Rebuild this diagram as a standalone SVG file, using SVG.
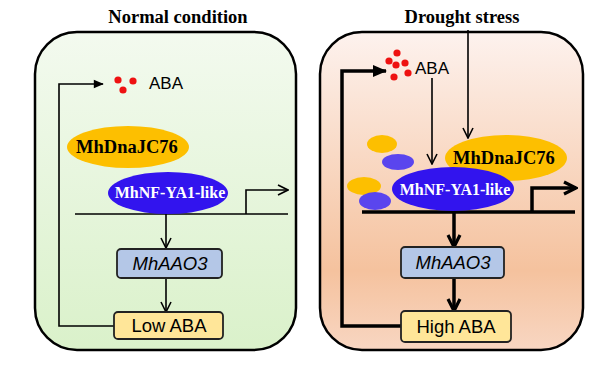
<svg xmlns="http://www.w3.org/2000/svg" width="600" height="380" viewBox="0 0 600 380">
<defs>
<linearGradient id="gGreen" x1="0" y1="0" x2="0" y2="1">
<stop offset="0" stop-color="#f3faef"/>
<stop offset="1" stop-color="#daf1ca"/>
</linearGradient>
<linearGradient id="gPeach" x1="0" y1="0" x2="0" y2="1">
<stop offset="0" stop-color="#fdf2ee"/>
<stop offset="0.75" stop-color="#f5c29e"/>
<stop offset="1" stop-color="#f8d6c2"/>
</linearGradient>
<marker id="chev" viewBox="0 0 12 12" refX="11" refY="6" markerWidth="12" markerHeight="12" markerUnits="userSpaceOnUse" orient="auto">
<path d="M1,1 L11,6 L1,11" fill="none" stroke="#000" stroke-width="1.6"/>
</marker>
<marker id="chevB" viewBox="0 0 16 16" refX="14" refY="8" markerWidth="16" markerHeight="16" markerUnits="userSpaceOnUse" orient="auto">
<path d="M2,2 L14,8 L2,14" fill="none" stroke="#000" stroke-width="3.2"/>
</marker>
<marker id="tri" viewBox="0 0 12 12" refX="11" refY="6" markerWidth="12" markerHeight="10" markerUnits="userSpaceOnUse" orient="auto">
<path d="M0,1 L12,6 L0,11 Z" fill="#000"/>
</marker>
<marker id="triB" viewBox="0 0 14 14" refX="13" refY="7" markerWidth="14" markerHeight="14" markerUnits="userSpaceOnUse" orient="auto">
<path d="M0,1 L14,7 L0,13 Z" fill="#000"/>
</marker>
</defs>
<style>
.title{font-family:"Liberation Serif",serif;font-weight:bold;font-size:18.5px;fill:#000}
.panel{stroke:#000;stroke-width:2.5}
.aba{font-family:"Liberation Sans",Arial,sans-serif;font-size:17px;fill:#000}
.dot{fill:#ee1111}
.yel{fill:#fdbf00}
.blu{fill:#3214ee}
.lblu{fill:#5a45ee}
.ptxt{font-family:"Liberation Serif",serif;font-weight:bold;font-size:18.5px;fill:#000}
.wtxt{font-family:"Liberation Serif",serif;font-weight:bold;font-size:16px;fill:#fff}
.box{stroke:#222;stroke-width:1.8}
.gene{fill:#b4c7e7}
.abab{fill:#ffe699}
.btxt{font-family:"Liberation Sans",Arial,sans-serif;font-size:18.5px;fill:#000}
.thin{fill:none;stroke:#000;stroke-width:1.6}
.thick{fill:none;stroke:#000;stroke-width:3.5}
</style>

<text class="title" x="178" y="23" text-anchor="middle">Normal condition</text>
<text class="title" x="462" y="23" text-anchor="middle">Drought stress</text>

<g id="panel-normal">
<rect class="panel" x="35" y="32" width="261" height="318" rx="42" fill="url(#gGreen)"/>
</g>
<g id="panel-drought">
<rect class="panel" x="320" y="32" width="263" height="318" rx="42" fill="url(#gPeach)"/>
</g>

<g id="connectors">
<path class="thin" d="M114,326 H59 V84 H103" marker-end="url(#tri)"/>
<line class="thin" x1="75" y1="214" x2="288" y2="214"/>
<path class="thin" d="M246,214 V190 H288" marker-end="url(#chev)"/>
<line class="thin" x1="166" y1="214" x2="166" y2="248" marker-end="url(#chev)"/>
<line class="thin" x1="166" y1="278" x2="166" y2="312" marker-end="url(#chev)"/>
<path class="thick" d="M401,326 H342 V71 H386" marker-end="url(#triB)"/>
<line class="thin" x1="468" y1="30" x2="468" y2="138" marker-end="url(#chev)"/>
<line class="thin" x1="432" y1="78" x2="432" y2="164" marker-end="url(#chev)"/>
<line class="thick" x1="362" y1="212" x2="575" y2="212"/>
<path class="thick" d="M532,212 V188 H576" marker-end="url(#chevB)"/>
<line class="thick" x1="454" y1="212" x2="454" y2="247" marker-end="url(#chevB)"/>
<line class="thick" x1="454" y1="278" x2="454" y2="311" marker-end="url(#chevB)"/>
</g>

<g id="aba-normal">
<circle class="dot" cx="118" cy="80" r="3.6"/>
<circle class="dot" cx="133" cy="81" r="3.6"/>
<circle class="dot" cx="123" cy="90" r="3.6"/>
<text class="aba" x="149" y="89">ABA</text>
</g>
<g id="dnajc-normal">
<ellipse class="yel" cx="128" cy="147" rx="61" ry="21"/>
<text class="ptxt" x="127" y="153" text-anchor="middle">MhDnaJC76</text>
</g>
<g id="nfya-normal">
<ellipse class="blu" cx="168" cy="193" rx="60" ry="21"/>
<text class="wtxt" x="170" y="198" text-anchor="middle">MhNF-YA1-like</text>
</g>
<g id="aao3-normal">
<rect class="box gene" x="117" y="249" width="105" height="29" rx="4"/>
<text class="btxt" x="170" y="270" text-anchor="middle" font-style="italic">MhAAO3</text>
</g>
<g id="lowaba">
<rect class="box abab" x="114" y="312" width="109" height="27" rx="4"/>
<text class="btxt" x="169" y="332" text-anchor="middle">Low ABA</text>
</g>

<g id="aba-drought">
<circle class="dot" cx="397" cy="53" r="3.6"/>
<circle class="dot" cx="389" cy="61" r="3.6"/>
<circle class="dot" cx="396" cy="65" r="3.6"/>
<circle class="dot" cx="405" cy="63" r="3.6"/>
<circle class="dot" cx="394" cy="77" r="3.6"/>
<circle class="dot" cx="408" cy="73" r="3.6"/>
<text class="aba" x="415" y="74">ABA</text>
</g>
<g id="small-proteins">
<ellipse class="yel" cx="382" cy="144" rx="15" ry="9"/>
<ellipse class="lblu" cx="398" cy="162" rx="16" ry="8"/>
<ellipse class="yel" cx="364" cy="186" rx="17" ry="9"/>
<ellipse class="lblu" cx="375" cy="201" rx="16" ry="9"/>
</g>
<g id="dnajc-drought">
<ellipse class="yel" cx="506" cy="158" rx="61" ry="23"/>
<text class="ptxt" x="504" y="164" text-anchor="middle">MhDnaJC76</text>
</g>
<g id="nfya-drought">
<ellipse class="blu" cx="453" cy="189" rx="61" ry="22"/>
<text class="wtxt" x="455" y="195" text-anchor="middle">MhNF-YA1-like</text>
</g>
<g id="aao3-drought">
<rect class="box gene" x="401" y="247" width="103" height="31" rx="4"/>
<text class="btxt" x="453" y="269" text-anchor="middle" font-style="italic">MhAAO3</text>
</g>
<g id="highaba">
<rect class="box abab" x="401" y="311" width="110" height="31" rx="4"/>
<text class="btxt" x="456" y="333" text-anchor="middle">High ABA</text>
</g>
</svg>
